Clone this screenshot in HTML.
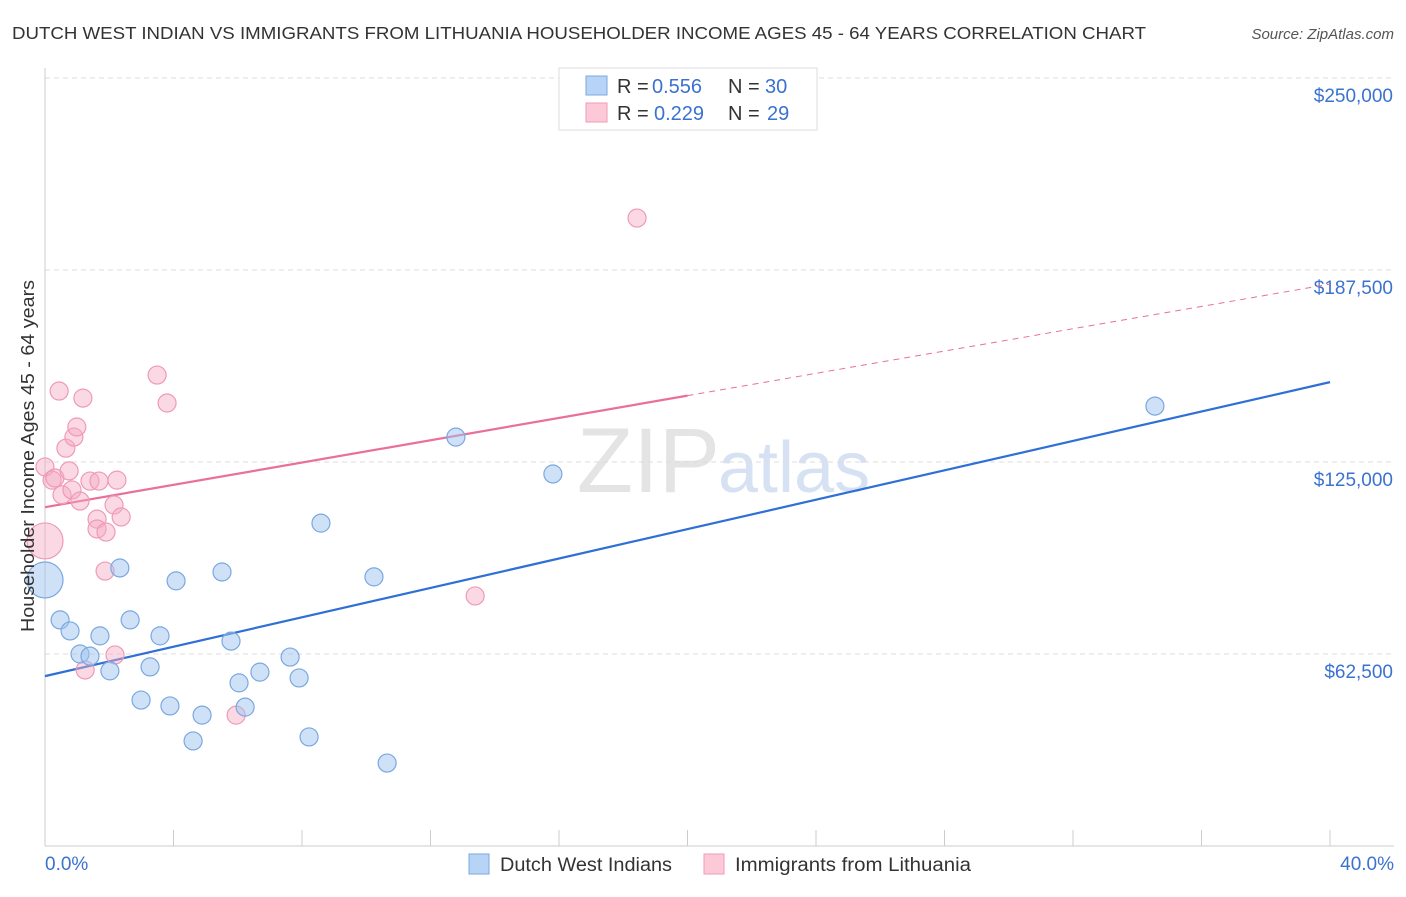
<!DOCTYPE html>
<html><head><meta charset="utf-8"><style>
body{margin:0;background:#fff;font-family:"Liberation Sans",sans-serif;}
svg text{font-family:"Liberation Sans",sans-serif;}
</style></head><body>
<svg id="chart" width="1406" height="892" xmlns="http://www.w3.org/2000/svg">
<text x="12" y="39" font-size="17.5" fill="#333" textLength="1134" lengthAdjust="spacingAndGlyphs">DUTCH WEST INDIAN VS IMMIGRANTS FROM LITHUANIA HOUSEHOLDER INCOME AGES 45 - 64 YEARS CORRELATION CHART</text>
<text x="1394" y="39" font-size="15" fill="#555" font-style="italic" text-anchor="end">Source: ZipAtlas.com</text>
<text x="720" y="492" font-size="92" fill="#e4e4e4" text-anchor="end" font-family="Liberation Serif">ZIP</text>
<text x="718" y="492" font-size="72" fill="#d6e2f3">atlas</text>
<g id="grid"></g><g id="axes"></g><g id="lines"></g><g id="pts"></g>
<g>
<rect x="559" y="68" width="258" height="62" fill="#fff" stroke="#ddd"/>
<rect x="586" y="76" width="21" height="19" fill="#b7d3f5" stroke="#7aa8e0"/>
<rect x="586" y="103" width="21" height="19" fill="#fbc9d8" stroke="#f09ab5"/>
<text x="617" y="93" font-size="20" fill="#333">R =</text>
<text x="652" y="93" font-size="20" fill="#3a72d0">0.556</text>
<text x="728" y="93" font-size="20" fill="#333">N =</text>
<text x="765" y="93" font-size="20" fill="#3a72d0">30</text>
<text x="617" y="120" font-size="20" fill="#333">R =</text>
<text x="654" y="120" font-size="20" fill="#3a72d0">0.229</text>
<text x="728" y="120" font-size="20" fill="#333">N =</text>
<text x="767" y="120" font-size="20" fill="#3a72d0">29</text>
</g>
<g>
<rect x="469" y="854" width="20" height="20" fill="#b7d3f5" stroke="#7aa8e0"/>
<text x="500" y="871" font-size="19" fill="#333" textLength="172" lengthAdjust="spacingAndGlyphs">Dutch West Indians</text>
<rect x="704" y="854" width="20" height="20" fill="#fbc9d8" stroke="#f09ab5"/>
<text x="735" y="871" font-size="19" fill="#333" textLength="236" lengthAdjust="spacingAndGlyphs">Immigrants from Lithuania</text>
</g>
<text x="34" y="456" font-size="18.5" fill="#333" text-anchor="middle" textLength="352" lengthAdjust="spacingAndGlyphs" transform="rotate(-90 34 456)">Householder Income Ages 45 - 64 years</text>
</svg>
<script>
const yTicks=[62500,125000,187500,250000];
const yTickLabels=["$62,500","$125,000","$187,500","$250,000"];
const xLabels=["0.0%","40.0%"];
const blueX=[0,0.47,0.78,1.09,1.40,1.71,2.02,2.33,2.65,2.99,3.27,3.58,3.89,4.08,4.61,4.89,5.51,5.79,6.04,6.23,6.69,7.63,7.91,8.22,8.59,10.24,10.65,12.79,15.81,34.55];
const blueY=[86.6,73.6,70.0,62.5,61.8,68.4,57.0,90.5,73.6,47.5,58.3,68.4,45.6,86.3,34.2,42.6,89.2,66.7,53.1,45.2,56.6,61.5,54.7,35.5,105.1,87.6,27.0,133.1,121.1,143.2];
const pinkX=[0,0,0.22,0.31,0.44,0.53,0.65,0.75,0.84,0.90,0.99,1.09,1.18,1.25,1.40,1.62,1.62,1.68,1.87,1.90,2.15,2.18,2.24,2.37,3.49,3.80,5.95,13.39,18.43];
const pinkY=[99.3,123.4,119.1,119.8,148.1,114.3,129.5,122.1,115.9,133.1,136.4,112.3,145.8,57.3,118.8,106.4,103.2,118.8,89.5,102.2,111.0,62.2,119.1,107.1,153.3,144.2,42.6,81.4,204.4];
const blueLine=[55.3,151.0];
const pinkLine=[110.3,182.9];
const pinkSolidEnd=20;
const NS="http://www.w3.org/2000/svg";
const sx=v=>45+v/40*1285;
const sy=k=>846-k*1000*192/62500;
function mk(p,t,a){const e=document.createElementNS(NS,t);for(const k in a)e.setAttribute(k,a[k]);p.appendChild(e);return e;}
const grid=document.getElementById('grid'),axes=document.getElementById('axes'),lines=document.getElementById('lines'),pts=document.getElementById('pts');
yTicks.forEach((v,i)=>{
 const y=846-v*192/62500;
 const g=mk(grid,'line',{x1:45,x2:1394,y1:y,y2:y,stroke:'#ddd','stroke-dasharray':'5,4'});
 
 
 const t=mk(grid,'text',{x:1393,y:y+24,'font-size':19,fill:'#3a72d0','text-anchor':'end'});
 t.textContent=yTickLabels[i];
 
 
});
mk(axes,'line',{x1:45,x2:45,y1:68,y2:846,stroke:'#ccc'});
mk(axes,'line',{x1:45,x2:1394,y1:846,y2:846,stroke:'#ccc'});
for(let i=0;i<=10;i++){const x=sx(i*4);mk(axes,'line',{x1:x,x2:x,y1:830,y2:846,stroke:'#ccc'});}
[[0,'start',45],[1,'end',1394]].forEach(([i,a,x])=>{
 const t=mk(axes,'text',{x:x,y:870,'font-size':19,fill:'#3a72d0','text-anchor':a});
 t.textContent=xLabels[i];
 
 
});
const bl=mk(lines,'line',{x1:sx(0),y1:sy(blueLine[0]),x2:sx(40),y2:sy(blueLine[1]),stroke:'#2f6fd6','stroke-width':2.2});


const pAt=x=>pinkLine[0]+(pinkLine[1]-pinkLine[0])*x/40;
const pl=mk(lines,'line',{x1:sx(0),y1:sy(pAt(0)),x2:sx(pinkSolidEnd),y2:sy(pAt(pinkSolidEnd)),stroke:'#e8709a','stroke-width':2.2});


const pd=mk(lines,'line',{x1:sx(pinkSolidEnd),y1:sy(pAt(pinkSolidEnd)),x2:sx(40),y2:sy(pAt(40)),stroke:'#e8709a','stroke-width':1,'stroke-dasharray':'6,5'});


function draw(X,Y,fill,stroke,name){
 X.forEach((x,i)=>{
  const r=(i===0)?18:9;
  const c=mk(pts,'circle',{cx:sx(x),cy:sy(Y[i]),r:r,fill:fill,stroke:stroke,'stroke-width':1.2});
  
  
 });
}
draw(pinkX,pinkY,'rgba(245,170,195,0.45)','#f09ab5','pink-point');
draw(blueX,blueY,'rgba(160,196,240,0.5)','#7aa8e0','blue-point');
</script>
</body></html>
